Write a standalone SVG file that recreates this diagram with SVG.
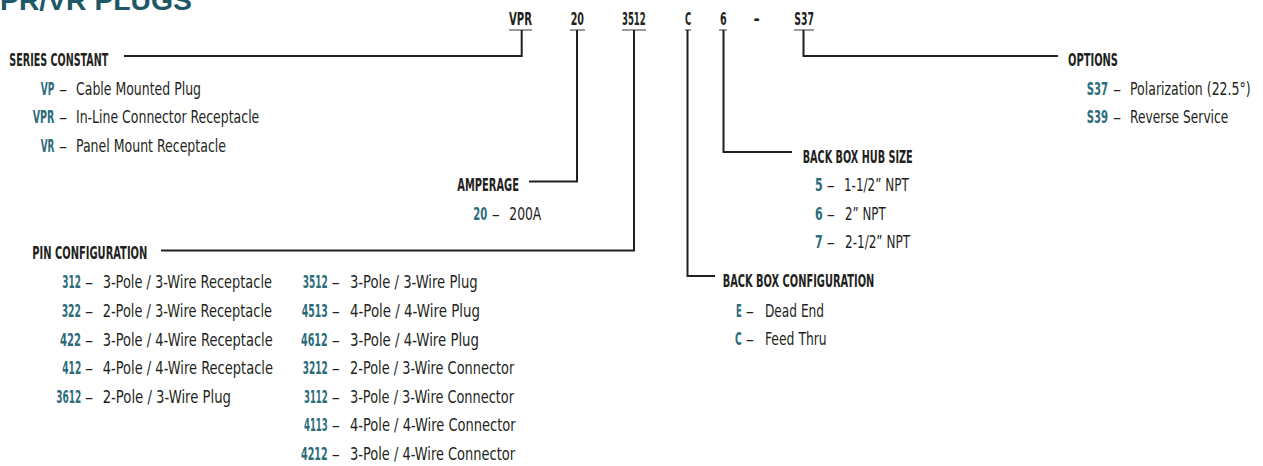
<svg xmlns="http://www.w3.org/2000/svg" width="1263" height="466" viewBox="0 0 1263 466">
<style>
text{font-family:"Liberation Sans Narrow","DejaVu Sans Condensed","Liberation Sans",sans-serif;font-size:18px;fill:#231f20;}
.title{font-family:"Liberation Sans",Arial,sans-serif;font-weight:700;font-size:28px;fill:#1d5866;}
.top{font-weight:700;font-size:17px;}
.h{font-weight:700;}
.c{font-weight:700;fill:#2b6c7b;}
.ln{fill:none;stroke:#231f20;stroke-width:2;}
.ul{fill:none;stroke:#3a3637;stroke-width:1.2;}
</style>
<rect width="1263" height="466" fill="#ffffff"/>
<g id="title"><text class="title" x="0" y="10" textLength="192" lengthAdjust="spacingAndGlyphs">PR/VR PLUGS</text></g>
<g id="code-row">
<text class="top" y="25" lengthAdjust="spacingAndGlyphs"><tspan x="509" textLength="23" lengthAdjust="spacingAndGlyphs">VPR</tspan><tspan x="570.7" textLength="13.3" lengthAdjust="spacingAndGlyphs">20</tspan><tspan x="622" textLength="23.7" lengthAdjust="spacingAndGlyphs">3512</tspan><tspan x="685" textLength="6.2" lengthAdjust="spacingAndGlyphs">C</tspan><tspan x="720" textLength="6.7" lengthAdjust="spacingAndGlyphs">6</tspan><tspan x="753.5">-</tspan><tspan x="794.3" textLength="19.7" lengthAdjust="spacingAndGlyphs">S37</tspan></text>
</g>
<g id="connectors">
<path class="ul" d="M509 30H532M570 30H585M622 30H646M685 30H691M719 30H727M794 30H814"/>
<path class="ln" d="M124 56H521.7V30"/>
<path class="ln" d="M529 181.5H577V30"/>
<path class="ln" d="M161 250.5H634V30"/>
<path class="ln" d="M687.5 30V276H715"/>
<path class="ln" d="M723.5 30V152H792"/>
<path class="ln" d="M803.5 30V56H1058"/>
</g>
<g id="series-constant">
<text class="h" x="9.3" y="65.7" textLength="99" lengthAdjust="spacingAndGlyphs">SERIES CONSTANT</text>
<text y="95"><tspan class="c" x="40.7" textLength="13.6" lengthAdjust="spacingAndGlyphs">VP</tspan><tspan x="59">–</tspan><tspan x="76" textLength="125" lengthAdjust="spacingAndGlyphs">Cable Mounted Plug</tspan></text>
<text y="123.3"><tspan class="c" x="32.7" textLength="21.6" lengthAdjust="spacingAndGlyphs">VPR</tspan><tspan x="59">–</tspan><tspan x="76" textLength="183.3" lengthAdjust="spacingAndGlyphs">In-Line Connector Receptacle</tspan></text>
<text y="151.7"><tspan class="c" x="40.7" textLength="13.6" lengthAdjust="spacingAndGlyphs">VR</tspan><tspan x="59">–</tspan><tspan x="76" textLength="150" lengthAdjust="spacingAndGlyphs">Panel Mount Receptacle</tspan></text>
</g>
<g id="amperage">
<text class="h" x="457.3" y="190.7" textLength="61.7" lengthAdjust="spacingAndGlyphs">AMPERAGE</text>
<text y="220"><tspan class="c" x="473.3" textLength="14" lengthAdjust="spacingAndGlyphs">20</tspan><tspan x="491.7">–</tspan><tspan x="509.3" textLength="32" lengthAdjust="spacingAndGlyphs">200A</tspan></text>
</g>
<g id="pin-configuration">
<text class="h" x="32.3" y="259.3" textLength="115" lengthAdjust="spacingAndGlyphs">PIN CONFIGURATION</text>
<text y="288.3"><tspan class="c" x="62.3" textLength="18.7" lengthAdjust="spacingAndGlyphs">312</tspan><tspan x="85">–</tspan><tspan x="102.7" textLength="169.3" lengthAdjust="spacingAndGlyphs">3-Pole / 3-Wire Receptacle</tspan></text>
<text y="316.9"><tspan class="c" x="61.7" textLength="19.3" lengthAdjust="spacingAndGlyphs">322</tspan><tspan x="85">–</tspan><tspan x="102.7" textLength="169.3" lengthAdjust="spacingAndGlyphs">2-Pole / 3-Wire Receptacle</tspan></text>
<text y="345.5"><tspan class="c" x="60" textLength="21" lengthAdjust="spacingAndGlyphs">422</tspan><tspan x="85">–</tspan><tspan x="102.7" textLength="170" lengthAdjust="spacingAndGlyphs">3-Pole / 4-Wire Receptacle</tspan></text>
<text y="374.1"><tspan class="c" x="62.3" textLength="18.9" lengthAdjust="spacingAndGlyphs">412</tspan><tspan x="85">–</tspan><tspan x="102.7" textLength="170.3" lengthAdjust="spacingAndGlyphs">4-Pole / 4-Wire Receptacle</tspan></text>
<text y="402.7"><tspan class="c" x="56.2" textLength="25" lengthAdjust="spacingAndGlyphs">3612</tspan><tspan x="85">–</tspan><tspan x="102.7" textLength="128.3" lengthAdjust="spacingAndGlyphs">2-Pole / 3-Wire Plug</tspan></text>
<text y="288.3"><tspan class="c" x="302.7" textLength="25" lengthAdjust="spacingAndGlyphs">3512</tspan><tspan x="331.7">–</tspan><tspan x="350" textLength="127.7" lengthAdjust="spacingAndGlyphs">3-Pole / 3-Wire Plug</tspan></text>
<text y="316.9"><tspan class="c" x="301.7" textLength="26" lengthAdjust="spacingAndGlyphs">4513</tspan><tspan x="331.7">–</tspan><tspan x="350" textLength="130" lengthAdjust="spacingAndGlyphs">4-Pole / 4-Wire Plug</tspan></text>
<text y="345.5"><tspan class="c" x="301" textLength="26.7" lengthAdjust="spacingAndGlyphs">4612</tspan><tspan x="331.7">–</tspan><tspan x="350" textLength="129" lengthAdjust="spacingAndGlyphs">3-Pole / 4-Wire Plug</tspan></text>
<text y="374.1"><tspan class="c" x="302.7" textLength="25" lengthAdjust="spacingAndGlyphs">3212</tspan><tspan x="331.7">–</tspan><tspan x="350" textLength="164.3" lengthAdjust="spacingAndGlyphs">2-Pole / 3-Wire Connector</tspan></text>
<text y="402.7"><tspan class="c" x="304" textLength="23.7" lengthAdjust="spacingAndGlyphs">3112</tspan><tspan x="331.7">–</tspan><tspan x="350" textLength="164" lengthAdjust="spacingAndGlyphs">3-Pole / 3-Wire Connector</tspan></text>
<text y="431.3"><tspan class="c" x="304" textLength="23.7" lengthAdjust="spacingAndGlyphs">4113</tspan><tspan x="331.7">–</tspan><tspan x="350" textLength="165.7" lengthAdjust="spacingAndGlyphs">4-Pole / 4-Wire Connector</tspan></text>
<text y="459.9"><tspan class="c" x="301" textLength="26.7" lengthAdjust="spacingAndGlyphs">4212</tspan><tspan x="331.7">–</tspan><tspan x="350" textLength="165" lengthAdjust="spacingAndGlyphs">3-Pole / 4-Wire Connector</tspan></text>
</g>
<g id="back-box-hub-size">
<text class="h" x="802.7" y="162.7" textLength="110" lengthAdjust="spacingAndGlyphs">BACK BOX HUB SIZE</text>
<text y="191"><tspan class="c" x="815" textLength="7.7" lengthAdjust="spacingAndGlyphs">5</tspan><tspan x="826.7">–</tspan><tspan x="844" textLength="64.7" lengthAdjust="spacingAndGlyphs">1-1/2” NPT</tspan></text>
<text y="220"><tspan class="c" x="815" textLength="7.7" lengthAdjust="spacingAndGlyphs">6</tspan><tspan x="826.7">–</tspan><tspan x="845" textLength="40.7" lengthAdjust="spacingAndGlyphs">2” NPT</tspan></text>
<text y="248.3"><tspan class="c" x="815" textLength="7.7" lengthAdjust="spacingAndGlyphs">7</tspan><tspan x="826.7">–</tspan><tspan x="845" textLength="65" lengthAdjust="spacingAndGlyphs">2-1/2” NPT</tspan></text>
</g>
<g id="back-box-configuration">
<text class="h" x="722.7" y="286.7" textLength="151.6" lengthAdjust="spacingAndGlyphs">BACK BOX CONFIGURATION</text>
<text y="316.7"><tspan class="c" x="736" textLength="5.7" lengthAdjust="spacingAndGlyphs">E</tspan><tspan x="745.7">–</tspan><tspan x="765" textLength="59" lengthAdjust="spacingAndGlyphs">Dead End</tspan></text>
<text y="345"><tspan class="c" x="735" textLength="6.7" lengthAdjust="spacingAndGlyphs">C</tspan><tspan x="745.7">–</tspan><tspan x="765" textLength="61.7" lengthAdjust="spacingAndGlyphs">Feed Thru</tspan></text>
</g>
<g id="options">
<text class="h" x="1068" y="65.5" textLength="50" lengthAdjust="spacingAndGlyphs">OPTIONS</text>
<text y="95"><tspan class="c" x="1086.7" textLength="21.3" lengthAdjust="spacingAndGlyphs">S37</tspan><tspan x="1113">–</tspan><tspan x="1130" textLength="120.7" lengthAdjust="spacingAndGlyphs">Polarization (22.5°)</tspan></text>
<text y="123.3"><tspan class="c" x="1086.7" textLength="21.3" lengthAdjust="spacingAndGlyphs">S39</tspan><tspan x="1113">–</tspan><tspan x="1130" textLength="98.3" lengthAdjust="spacingAndGlyphs">Reverse Service</tspan></text>
</g>
</svg>
